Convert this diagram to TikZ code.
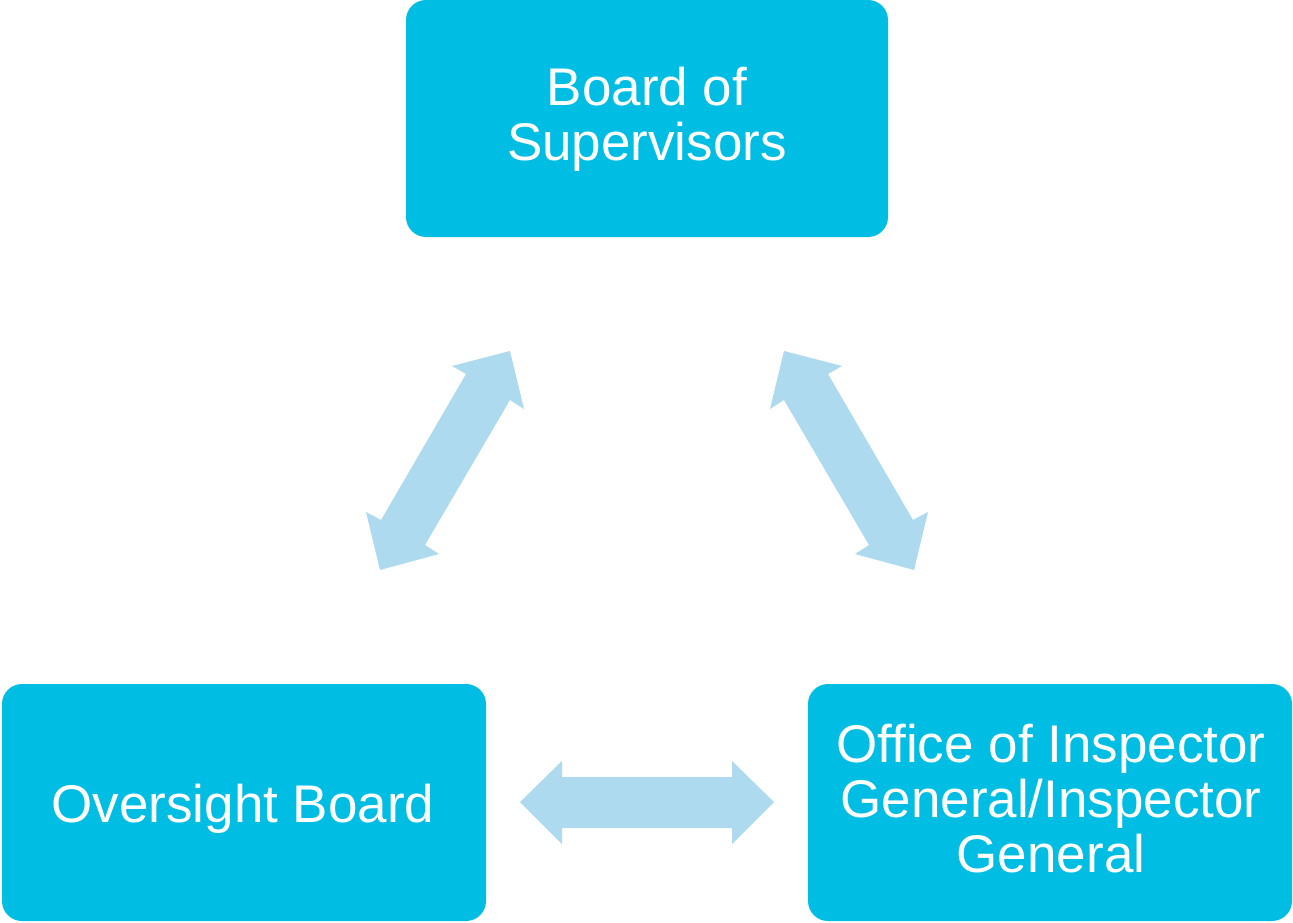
\documentclass[tikz,border=0pt]{standalone}
\usepackage{fontspec}
\setmainfont{Liberation Sans}
\definecolor{boxcyan}{HTML}{00BDE3}
\definecolor{arrowblue}{HTML}{ADDAEE}
\begin{document}
\begin{tikzpicture}[x=1pt,y=-1pt,
  box/.style={fill=boxcyan, draw=none, rounded corners=22pt, text=white, align=center,
    font=\fontsize{53}{55}\selectfont, inner sep=0pt},
  arr/.style={fill=arrowblue, draw=none}]
\useasboundingbox[fill=white] (0,0) rectangle (1293,923);
% boxes
\fill[boxcyan, rounded corners=20pt] (406,0) rectangle (888,237);
\node[box, fill=none] (bos) at (647,119) {Board of\\Supervisors};
\fill[boxcyan, rounded corners=20pt] (2,684) rectangle (486,921);
\node[box, fill=none] (ob) at (243,809) {Oversight Board};
\fill[boxcyan, rounded corners=20pt] (808,684) rectangle (1292,921);
\node[box, fill=none] (oig) at (1051,799) {Office of Inspector\\General/Inspector\\General};
% arrows
\fill[arr] (510,351) -- (452,366) -- (466,374) -- (381,520) -- (366,512) -- (380,570)
  -- (439,554) -- (425,545) -- (510,400) -- (524,409) -- cycle;
\fill[arr] (784,351) -- (842,366) -- (828,374) -- (913,520) -- (928,512) -- (914,570)
  -- (855,554) -- (869,545) -- (784,400) -- (770,409) -- cycle;
\fill[arr] (520,802) -- (562,761) -- (562,777) -- (732,777) -- (732,761) -- (774,802)
  -- (732,844) -- (732,828) -- (562,828) -- (562,844) -- cycle;
\end{tikzpicture}
\end{document}
